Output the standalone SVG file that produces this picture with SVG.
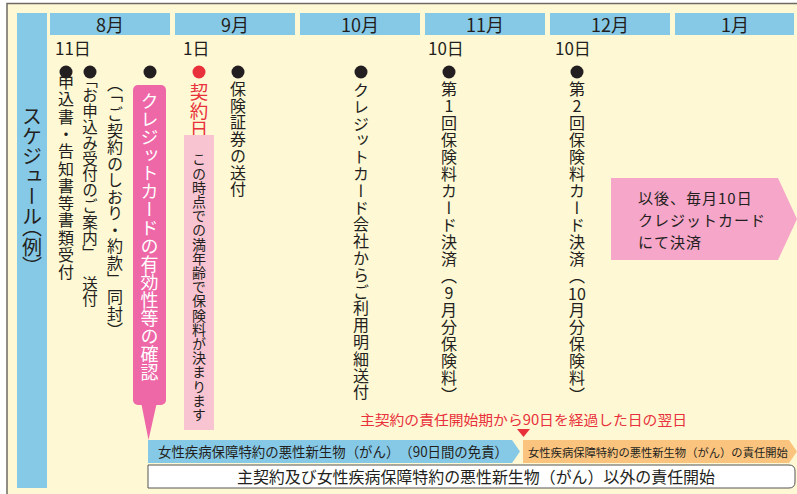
<svg xmlns="http://www.w3.org/2000/svg" width="797" height="494" viewBox="0 0 797 494">
<style>
text { font-family: "Noto Sans CJK JP", "Noto Sans", sans-serif; fill: #231F20; }
.v { writing-mode: vertical-rl; text-orientation: upright; }
.mon { font-size: 18px; text-anchor: middle; }
.day { font-size: 17px; }
.hdr { fill: #86C9E7; }
.dot { fill: #231F20; }
.red { fill: #E8313B; }
.note { font-size: 15px; letter-spacing: 1px; }
</style>
<rect x="7" y="3.5" width="800" height="500" fill="#FEF8D4" stroke="#6E6A63" stroke-width="1.5"/>
<g id="title">
  <rect x="17" y="13" width="30" height="475" class="hdr"/>
  <text class="v" x="32" y="106" font-size="20">スケジュール</text>
  <text class="v" x="32" y="227" font-size="20" style="font-feature-settings:'vpal'">（例）</text>
</g>
<g id="months">
  <rect x="50" y="13" width="120" height="22" class="hdr"/>
  <rect x="175" y="13" width="120" height="22" class="hdr"/>
  <rect x="300" y="13" width="120" height="22" class="hdr"/>
  <rect x="425" y="13" width="120" height="22" class="hdr"/>
  <rect x="550" y="13" width="120" height="22" class="hdr"/>
  <rect x="675" y="13" width="119" height="22" class="hdr"/>
  <text class="mon" x="110" y="31.5">8月</text>
  <text class="mon" x="235" y="31.5">9月</text>
  <text class="mon" x="360" y="31.5">10月</text>
  <text class="mon" x="485" y="31.5">11月</text>
  <text class="mon" x="610" y="31.5">12月</text>
  <text class="mon" x="735" y="31.5">1月</text>
</g>
<g id="days">
  <text class="day" x="55" y="55">11日</text>
  <text class="day" x="183" y="55">1日</text>
  <text class="day" x="428" y="55">10日</text>
  <text class="day" x="555" y="55">10日</text>
</g>
<g id="ev-application">
  <circle cx="66" cy="72" r="6.5" class="dot"/>
  <text class="v" x="66" y="74" font-size="16" letter-spacing="1.3">申込書・告知書等書類受付</text>
</g>
<g id="ev-guide">
  <circle cx="90" cy="72" r="6.5" class="dot"/>
  <text class="v" x="90" y="72" font-size="15.5" letter-spacing="0.3">「お申込み受付のご案内」</text>
  <text class="v" x="90" y="276" font-size="15.5" letter-spacing="0.3">送付</text>
  <text class="v" x="115" font-size="16" y="76 86 106 122.5 139 155.5 172 188.5 205 221.5 238 254.5 271 289 306 322">（「ご契約のしおり・約款」同封）</text>
</g>
<g id="ev-card-check">
  <circle cx="150" cy="72" r="6.5" class="dot"/>
  <rect x="133" y="85" width="33" height="320" rx="5" fill="#EE67A7"/>
  <polygon points="141,402 157,402 148.5,440" fill="#EE67A7"/>
  <text class="v" x="149.5" y="92" font-size="18" letter-spacing="0.1" style="fill:#FFFFFF">クレジットカードの有効性等の確認</text>
</g>
<g id="ev-contract">
  <circle cx="199" cy="72" r="6.5" class="red"/>
  <text class="v" x="199" y="83" font-size="18.5" style="fill:#E8313B">契約日</text>
  <rect x="184" y="135" width="30" height="295" fill="#F9C4D2"/>
  <text class="v" x="199" y="152" font-size="14" letter-spacing="0.2">この時点での満年齢で保険料が決まります</text>
</g>
<g id="ev-policy">
  <circle cx="238" cy="72" r="6.5" class="dot"/>
  <text class="v" x="238" y="81" font-size="16" letter-spacing="0.7">保険証券の送付</text>
</g>
<g id="ev-statement">
  <circle cx="361" cy="72" r="6.5" class="dot"/>
  <text class="v" x="361" y="82" font-size="16" letter-spacing="0.8">クレジットカード会社からご利用明細送付</text>
</g>
<g id="ev-pay1">
  <circle cx="449" cy="72" r="6.5" class="dot"/>
  <text class="v" x="449" y="81" font-size="16" letter-spacing="1">第1回保険料カード決済（9月分保険料）</text>
</g>
<g id="ev-pay2">
  <circle cx="577" cy="72" r="6.5" class="dot"/>
  <text class="v" x="577" y="81" font-size="16" letter-spacing="1">第2回保険料カード決済（</text>
  <text x="577" y="300" font-size="16" text-anchor="middle">10</text>
  <text class="v" x="577" y="302" font-size="16" letter-spacing="1">月分保険料）</text>
</g>
<g id="ev-monthly">
  <polygon points="611,178 778,178 797,219 778,260 611,260" fill="#F5A6C9"/>
  <text class="note" x="638" y="204">以後、毎月10日</text>
  <text class="note" x="638" y="226">クレジットカード</text>
  <text class="note" x="638" y="248">にて決済</text>
</g>
<g id="connectors">
  <text x="360" y="425" font-size="14" textLength="327" lengthAdjust="spacingAndGlyphs" style="fill:#E8313B">主契約の責任開始期から90日を経過した日の翌日</text>
  <polygon points="517,429 530,429 523.5,437" class="red"/>
  <polygon points="148,440 512,440 520,451.5 512,463 148,463" fill="#86C9E7"/>
  <text x="158" y="457" font-size="14" textLength="350" lengthAdjust="spacingAndGlyphs">女性疾病保障特約の悪性新生物（がん）　（90日間の免責）</text>
  <polygon points="523,440 789,440 797,451.5 789,463 523,463" fill="#FBC47E"/>
  <text x="528" y="456.5" font-size="11.3">女性疾病保障特約の悪性新生物（がん）の責任開始</text>
  <path d="M148,465 H789 Q795,465 795,471 V482 Q795,488 789,488 H148 Z" fill="#FFFFFF" stroke="#555555" stroke-width="1"/>
  <text x="237" y="483" font-size="16" textLength="478" lengthAdjust="spacingAndGlyphs">主契約及び女性疾病保障特約の悪性新生物（がん）以外の責任開始</text>
</g>
</svg>
